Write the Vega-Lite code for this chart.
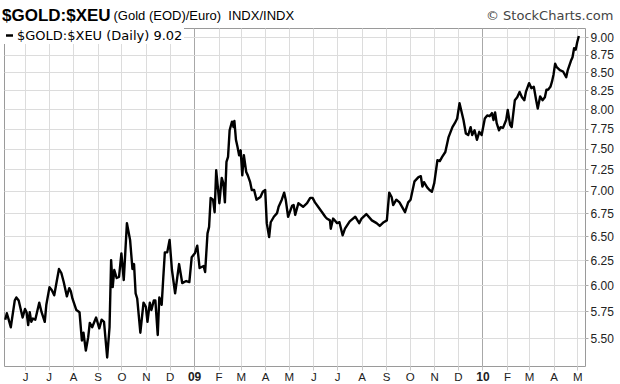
{
  "$schema": "https://vega.github.io/schema/vega-lite/v6.json",
  "width": 581,
  "height": 338,
  "autosize": {"type": "none"},
  "padding": {"left": 4, "top": 28, "right": 35, "bottom": 18},
  "background": "white",
  "title": {
    "text": "$GOLD:$XEU",
    "anchor": "start",
    "frame": "group",
    "font": "Liberation Sans",
    "fontSize": 17,
    "fontWeight": "bold",
    "color": "#000",
    "baseline": "alphabetic",
    "offset": -29,
    "dx": -2
  },
  "config": {
    "view": {"stroke": "#9a9a9a", "strokeWidth": 1}
  },
  "data": {
    "values": [
      {"date": "2008-05-07", "value": 5.67},
      {"date": "2008-05-09", "value": 5.73},
      {"date": "2008-05-11", "value": 5.68},
      {"date": "2008-05-14", "value": 5.60},
      {"date": "2008-05-19", "value": 5.85},
      {"date": "2008-05-21", "value": 5.88},
      {"date": "2008-05-24", "value": 5.85},
      {"date": "2008-05-29", "value": 5.69},
      {"date": "2008-06-01", "value": 5.77},
      {"date": "2008-06-03", "value": 5.74},
      {"date": "2008-06-05", "value": 5.62},
      {"date": "2008-06-07", "value": 5.74},
      {"date": "2008-06-09", "value": 5.65},
      {"date": "2008-06-11", "value": 5.68},
      {"date": "2008-06-14", "value": 5.67},
      {"date": "2008-06-19", "value": 5.83},
      {"date": "2008-06-22", "value": 5.74},
      {"date": "2008-06-26", "value": 5.65},
      {"date": "2008-06-28", "value": 5.81},
      {"date": "2008-07-02", "value": 5.98},
      {"date": "2008-07-05", "value": 5.95},
      {"date": "2008-07-08", "value": 5.90},
      {"date": "2008-07-11", "value": 6.03},
      {"date": "2008-07-14", "value": 6.16},
      {"date": "2008-07-17", "value": 6.12},
      {"date": "2008-07-20", "value": 6.03},
      {"date": "2008-07-24", "value": 5.89},
      {"date": "2008-07-27", "value": 5.97},
      {"date": "2008-07-29", "value": 5.94},
      {"date": "2008-07-31", "value": 5.87},
      {"date": "2008-08-05", "value": 5.76},
      {"date": "2008-08-09", "value": 5.74},
      {"date": "2008-08-12", "value": 5.48},
      {"date": "2008-08-14", "value": 5.55},
      {"date": "2008-08-17", "value": 5.39},
      {"date": "2008-08-20", "value": 5.51},
      {"date": "2008-08-22", "value": 5.64},
      {"date": "2008-08-25", "value": 5.60},
      {"date": "2008-08-30", "value": 5.69},
      {"date": "2008-09-03", "value": 5.59},
      {"date": "2008-09-06", "value": 5.67},
      {"date": "2008-09-09", "value": 5.65},
      {"date": "2008-09-13", "value": 5.33},
      {"date": "2008-09-16", "value": 5.60},
      {"date": "2008-09-18", "value": 6.25},
      {"date": "2008-09-20", "value": 5.98},
      {"date": "2008-09-22", "value": 6.15},
      {"date": "2008-09-25", "value": 6.07},
      {"date": "2008-09-28", "value": 6.08},
      {"date": "2008-10-01", "value": 6.32},
      {"date": "2008-10-04", "value": 6.05},
      {"date": "2008-10-08", "value": 6.64},
      {"date": "2008-10-12", "value": 6.46},
      {"date": "2008-10-15", "value": 6.16},
      {"date": "2008-10-17", "value": 6.21},
      {"date": "2008-10-19", "value": 5.92},
      {"date": "2008-10-21", "value": 5.87},
      {"date": "2008-10-25", "value": 5.55},
      {"date": "2008-10-29", "value": 5.83},
      {"date": "2008-11-01", "value": 5.79},
      {"date": "2008-11-03", "value": 5.65},
      {"date": "2008-11-06", "value": 5.83},
      {"date": "2008-11-08", "value": 5.76},
      {"date": "2008-11-11", "value": 5.85},
      {"date": "2008-11-13", "value": 5.85},
      {"date": "2008-11-16", "value": 5.53},
      {"date": "2008-11-18", "value": 5.88},
      {"date": "2008-11-21", "value": 5.81},
      {"date": "2008-11-23", "value": 6.07},
      {"date": "2008-11-25", "value": 6.33},
      {"date": "2008-11-28", "value": 6.33},
      {"date": "2008-12-01", "value": 6.46},
      {"date": "2008-12-04", "value": 6.15},
      {"date": "2008-12-08", "value": 5.92},
      {"date": "2008-12-13", "value": 6.21},
      {"date": "2008-12-17", "value": 6.02},
      {"date": "2008-12-22", "value": 6.04},
      {"date": "2008-12-26", "value": 6.03},
      {"date": "2008-12-29", "value": 6.28},
      {"date": "2009-01-02", "value": 6.32},
      {"date": "2009-01-05", "value": 6.40},
      {"date": "2009-01-08", "value": 6.17},
      {"date": "2009-01-13", "value": 6.19},
      {"date": "2009-01-15", "value": 6.13},
      {"date": "2009-01-18", "value": 6.53},
      {"date": "2009-01-20", "value": 6.60},
      {"date": "2009-01-22", "value": 6.92},
      {"date": "2009-01-25", "value": 6.90},
      {"date": "2009-01-27", "value": 6.76},
      {"date": "2009-01-29", "value": 7.24},
      {"date": "2009-02-02", "value": 6.86},
      {"date": "2009-02-05", "value": 7.15},
      {"date": "2009-02-07", "value": 7.09},
      {"date": "2009-02-09", "value": 6.87},
      {"date": "2009-02-11", "value": 7.34},
      {"date": "2009-02-13", "value": 7.40},
      {"date": "2009-02-15", "value": 7.73},
      {"date": "2009-02-18", "value": 7.84},
      {"date": "2009-02-20", "value": 7.77},
      {"date": "2009-02-21", "value": 7.85},
      {"date": "2009-02-23", "value": 7.61},
      {"date": "2009-02-25", "value": 7.52},
      {"date": "2009-02-27", "value": 7.42},
      {"date": "2009-03-01", "value": 7.48},
      {"date": "2009-03-03", "value": 7.18},
      {"date": "2009-03-05", "value": 7.42},
      {"date": "2009-03-08", "value": 7.22},
      {"date": "2009-03-10", "value": 7.18},
      {"date": "2009-03-13", "value": 7.10},
      {"date": "2009-03-15", "value": 7.01},
      {"date": "2009-03-18", "value": 7.01},
      {"date": "2009-03-21", "value": 6.90},
      {"date": "2009-03-26", "value": 6.93},
      {"date": "2009-03-29", "value": 6.99},
      {"date": "2009-04-01", "value": 7.01},
      {"date": "2009-04-03", "value": 6.64},
      {"date": "2009-04-06", "value": 6.49},
      {"date": "2009-04-08", "value": 6.65},
      {"date": "2009-04-12", "value": 6.71},
      {"date": "2009-04-16", "value": 6.75},
      {"date": "2009-04-18", "value": 6.82},
      {"date": "2009-04-20", "value": 6.86},
      {"date": "2009-04-22", "value": 6.90},
      {"date": "2009-04-25", "value": 6.98},
      {"date": "2009-04-27", "value": 6.90},
      {"date": "2009-04-30", "value": 6.71},
      {"date": "2009-05-05", "value": 6.83},
      {"date": "2009-05-07", "value": 6.84},
      {"date": "2009-05-09", "value": 6.73},
      {"date": "2009-05-13", "value": 6.86},
      {"date": "2009-05-16", "value": 6.84},
      {"date": "2009-05-19", "value": 6.82},
      {"date": "2009-05-24", "value": 6.86},
      {"date": "2009-05-28", "value": 6.92},
      {"date": "2009-05-31", "value": 6.92},
      {"date": "2009-06-03", "value": 6.87},
      {"date": "2009-06-07", "value": 6.82},
      {"date": "2009-06-12", "value": 6.76},
      {"date": "2009-06-16", "value": 6.71},
      {"date": "2009-06-18", "value": 6.69},
      {"date": "2009-06-22", "value": 6.67},
      {"date": "2009-06-23", "value": 6.58},
      {"date": "2009-06-26", "value": 6.69},
      {"date": "2009-07-01", "value": 6.64},
      {"date": "2009-07-04", "value": 6.65},
      {"date": "2009-07-08", "value": 6.51},
      {"date": "2009-07-11", "value": 6.58},
      {"date": "2009-07-17", "value": 6.66},
      {"date": "2009-07-24", "value": 6.71},
      {"date": "2009-07-29", "value": 6.64},
      {"date": "2009-08-01", "value": 6.69},
      {"date": "2009-08-07", "value": 6.74},
      {"date": "2009-08-14", "value": 6.67},
      {"date": "2009-08-20", "value": 6.64},
      {"date": "2009-08-24", "value": 6.61},
      {"date": "2009-08-29", "value": 6.65},
      {"date": "2009-09-02", "value": 6.67},
      {"date": "2009-09-05", "value": 6.98},
      {"date": "2009-09-08", "value": 6.93},
      {"date": "2009-09-10", "value": 6.84},
      {"date": "2009-09-14", "value": 6.90},
      {"date": "2009-09-18", "value": 6.87},
      {"date": "2009-09-25", "value": 6.76},
      {"date": "2009-09-29", "value": 6.87},
      {"date": "2009-10-02", "value": 6.90},
      {"date": "2009-10-07", "value": 7.11},
      {"date": "2009-10-12", "value": 7.16},
      {"date": "2009-10-15", "value": 7.17},
      {"date": "2009-10-17", "value": 7.05},
      {"date": "2009-10-19", "value": 7.10},
      {"date": "2009-10-23", "value": 7.04},
      {"date": "2009-10-26", "value": 7.01},
      {"date": "2009-10-29", "value": 6.99},
      {"date": "2009-11-01", "value": 7.09},
      {"date": "2009-11-05", "value": 7.36},
      {"date": "2009-11-08", "value": 7.35},
      {"date": "2009-11-11", "value": 7.40},
      {"date": "2009-11-15", "value": 7.46},
      {"date": "2009-11-19", "value": 7.64},
      {"date": "2009-11-24", "value": 7.77},
      {"date": "2009-11-27", "value": 7.82},
      {"date": "2009-11-30", "value": 7.88},
      {"date": "2009-12-03", "value": 8.08},
      {"date": "2009-12-05", "value": 7.99},
      {"date": "2009-12-08", "value": 7.86},
      {"date": "2009-12-11", "value": 7.69},
      {"date": "2009-12-14", "value": 7.67},
      {"date": "2009-12-17", "value": 7.77},
      {"date": "2009-12-19", "value": 7.67},
      {"date": "2009-12-22", "value": 7.73},
      {"date": "2009-12-25", "value": 7.61},
      {"date": "2009-12-28", "value": 7.71},
      {"date": "2009-12-31", "value": 7.67},
      {"date": "2010-01-04", "value": 7.88},
      {"date": "2010-01-07", "value": 7.92},
      {"date": "2010-01-10", "value": 7.91},
      {"date": "2010-01-13", "value": 7.95},
      {"date": "2010-01-15", "value": 7.86},
      {"date": "2010-01-17", "value": 7.96},
      {"date": "2010-01-19", "value": 7.82},
      {"date": "2010-01-22", "value": 7.73},
      {"date": "2010-01-24", "value": 7.77},
      {"date": "2010-01-27", "value": 7.76},
      {"date": "2010-01-31", "value": 7.86},
      {"date": "2010-02-02", "value": 7.99},
      {"date": "2010-02-05", "value": 7.80},
      {"date": "2010-02-07", "value": 7.77},
      {"date": "2010-02-11", "value": 8.12},
      {"date": "2010-02-14", "value": 8.16},
      {"date": "2010-02-17", "value": 8.23},
      {"date": "2010-02-20", "value": 8.16},
      {"date": "2010-02-23", "value": 8.12},
      {"date": "2010-02-25", "value": 8.23},
      {"date": "2010-03-01", "value": 8.35},
      {"date": "2010-03-04", "value": 8.28},
      {"date": "2010-03-07", "value": 8.30},
      {"date": "2010-03-10", "value": 8.12},
      {"date": "2010-03-12", "value": 8.01},
      {"date": "2010-03-15", "value": 8.17},
      {"date": "2010-03-18", "value": 8.12},
      {"date": "2010-03-21", "value": 8.16},
      {"date": "2010-03-23", "value": 8.26},
      {"date": "2010-03-25", "value": 8.26},
      {"date": "2010-03-28", "value": 8.30},
      {"date": "2010-03-30", "value": 8.37},
      {"date": "2010-04-01", "value": 8.47},
      {"date": "2010-04-03", "value": 8.62},
      {"date": "2010-04-05", "value": 8.57},
      {"date": "2010-04-09", "value": 8.53},
      {"date": "2010-04-13", "value": 8.51},
      {"date": "2010-04-17", "value": 8.43},
      {"date": "2010-04-19", "value": 8.53},
      {"date": "2010-04-23", "value": 8.66},
      {"date": "2010-04-25", "value": 8.71},
      {"date": "2010-04-27", "value": 8.84},
      {"date": "2010-04-29", "value": 8.82},
      {"date": "2010-05-01", "value": 8.93},
      {"date": "2010-05-03", "value": 9.02}
    ]
  },
  "layer": [
    {
      "mark": {"type": "line", "color": "#000", "strokeWidth": 2.4, "strokeJoin": "round"},
      "encoding": {
        "x": {
          "field": "date",
          "type": "temporal",
          "scale": {"domain": [{"year": 2008, "month": 5, "date": 5, "hours": 10}, {"year": 2010, "month": 5, "date": 10, "hours": 19}], "nice": false},
          "axis": {
            "orient": "bottom",
            "title": null,
            "tickCount": {"interval": "month", "step": 1},
            "labelExpr": "month(datum.value) == 0 ? timeFormat(datum.value, '%y') : slice(timeFormat(datum.value, '%b'), 0, 1)",
            "labelFont": "Liberation Sans",
            "labelFontSize": {"condition": {"test": "month(datum.value) == 0", "value": 12}, "value": 11.5},
            "labelFontWeight": {"condition": {"test": "month(datum.value) == 0", "value": "bold"}, "value": "normal"},
            "labelColor": "#222",
            "labelPadding": 1,
            "labelOverlap": false,
            "labelFlush": false,
            "domain": false,
            "ticks": true,
            "tickSize": 4,
            "tickColor": "#c8c8c8",
            "grid": true,
            "gridColor": {"condition": {"test": "month(datum.value) == 0", "value": "#a8a8a8"}, "value": "#dcdcdc"},
            "gridWidth": 1
          }
        },
        "y": {
          "field": "value",
          "type": "quantitative",
          "scale": {"type": "log", "domain": [5.256, 9.138], "nice": false, "zero": false},
          "axis": {
            "orient": "right",
            "title": null,
            "values": [5.5, 5.75, 6, 6.25, 6.5, 6.75, 7, 7.25, 7.5, 7.75, 8, 8.25, 8.5, 8.75, 9],
            "format": ".2f",
            "labelFont": "Liberation Sans",
            "labelFontSize": 12,
            "labelColor": "#222",
            "labelPadding": 2,
            "labelOverlap": false,
            "domain": false,
            "ticks": true,
            "tickSize": 3,
            "tickColor": "#aaa",
            "grid": true,
            "gridColor": "#dcdcdc",
            "gridWidth": 1
          }
        },
        "color": {
          "datum": "$GOLD:$XEU (Daily) 9.02",
          "type": "nominal",
          "scale": {"range": ["#000000"]},
          "legend": {
            "title": null,
            "orient": "none",
            "legendX": -2,
            "legendY": 0,
            "padding": 1,
            "fillColor": "white",
            "symbolType": "stroke",
            "symbolSize": 49,
            "symbolStrokeWidth": 2.5,
            "labelFont": "DejaVu Sans",
            "labelFontSize": 13,
            "labelColor": "#000",
            "labelOffset": 1,
            "labelLimit": 400
          }
        }
      }
    },
    {
      "mark": {"type": "line", "opacity": 0},
      "encoding": {
        "x": {
          "field": "date",
          "type": "temporal",
          "axis": {
            "orient": "top",
            "labels": false,
            "ticks": false,
            "domain": false,
            "grid": false,
            "title": "(Gold (EOD)/Euro)\u00a0\u00a0INDX/INDX",
            "titleFont": "Liberation Sans",
            "titleFontSize": 13,
            "titleFontWeight": "normal",
            "titleColor": "#000",
            "titleAlign": "left",
            "titleAnchor": "start",
            "titleBaseline": "alphabetic",
            "titleX": 109,
            "titleY": -9
          }
        },
        "y": {
          "field": "value",
          "type": "quantitative",
          "axis": {
            "orient": "left",
            "labels": false,
            "ticks": false,
            "domain": false,
            "grid": false,
            "title": "© StockCharts.com",
            "titleAngle": 0,
            "titleFont": "DejaVu Sans",
            "titleFontSize": 13,
            "titleFontWeight": "normal",
            "titleColor": "#444",
            "titleAlign": "right",
            "titleBaseline": "alphabetic",
            "titleX": 609,
            "titleY": -9
          }
        }
      }
    }
  ],
  "resolve": {"axis": {"x": "independent", "y": "independent"}}
}
